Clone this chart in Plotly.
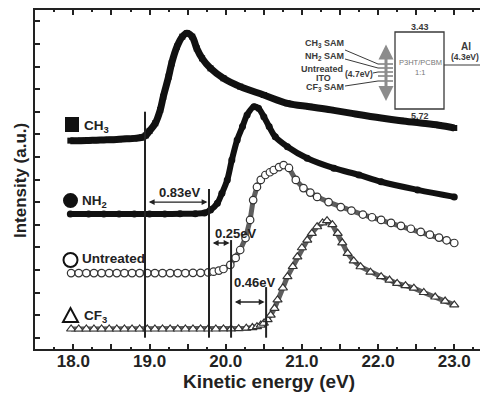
import plotly.graph_objects as go

# ---------------- data ----------------
ch3_x = [17.96, 18.1, 18.2, 18.3, 18.4, 18.5, 18.6, 18.7, 18.8, 18.9, 18.95, 19.0, 19.075, 19.14,
         19.18, 19.25, 19.29, 19.36, 19.43, 19.49, 19.56, 19.62, 19.69, 19.80, 19.97, 20.19, 20.50,
         20.81, 21.1, 21.38, 21.7, 22.04, 22.3, 22.56, 22.8, 23.0]
ch3_y = [8.72, 8.72, 8.73, 8.74, 8.75, 8.76, 8.78, 8.80, 8.82, 8.86, 8.95, 9.15, 9.49, 10.08,
         10.66, 11.55, 12.14, 12.88, 13.32, 13.47, 13.32, 12.80, 12.36, 11.92, 11.48, 11.11, 10.74,
         10.37, 10.22, 10.08, 9.90, 9.72, 9.60, 9.50, 9.40, 9.28]

nh2_x = [17.96, 18.2, 18.4, 18.6, 18.8, 19.0, 19.2, 19.4, 19.6, 19.72, 19.80, 19.89, 19.95, 20.02,
         20.08, 20.15, 20.22, 20.28, 20.37, 20.43, 20.50, 20.57, 20.65, 20.81, 21.07, 21.42, 21.75,
         22.04, 22.52, 23.0]
nh2_y = [5.47, 5.47, 5.47, 5.47, 5.47, 5.47, 5.47, 5.48, 5.49, 5.52, 5.65, 5.95, 6.39, 6.98,
         7.86, 8.75, 9.34, 9.85, 10.22, 10.15, 9.78, 9.34, 8.89, 8.45, 7.94, 7.50, 7.20,
         6.90, 6.54, 6.23]

unt_x = [17.97, 18.07, 18.17, 18.27, 18.37, 18.47, 18.57, 18.67, 18.77, 18.87, 18.97, 19.07, 19.17,
         19.27, 19.37, 19.47, 19.57, 19.67, 19.77, 19.84, 19.91, 19.97, 20.06, 20.13, 20.19, 20.26,
         20.32, 20.36, 20.41, 20.46, 20.52, 20.58, 20.63, 20.70, 20.76, 20.83, 20.92, 21.02, 21.11,
         21.20, 21.35, 21.51, 21.65, 21.8, 21.92, 22.04, 22.17, 22.3, 22.43, 22.56, 22.68, 22.8,
         22.9, 23.0]
unt_y = [2.86, 2.86, 2.86, 2.86, 2.86, 2.86, 2.86, 2.86, 2.86, 2.86, 2.86, 2.86, 2.86,
         2.86, 2.86, 2.86, 2.87, 2.87, 2.89, 2.92, 2.97, 3.04, 3.22, 3.53, 3.88, 4.41,
         5.21, 6.09, 6.67, 6.98, 7.20, 7.32, 7.42, 7.55, 7.64, 7.51, 6.98, 6.62, 6.42,
         6.23, 6.00, 5.78, 5.62, 5.45, 5.33, 5.21, 5.08, 4.95, 4.82, 4.68, 4.56, 4.43,
         4.31, 4.19]

cf3_x = [17.97, 18.07, 18.17, 18.27, 18.37, 18.47, 18.57, 18.67, 18.77, 18.87, 18.97, 19.07, 19.17,
         19.27, 19.37, 19.47, 19.57, 19.67, 19.77, 19.87, 19.97, 20.07, 20.17, 20.27, 20.35, 20.41,
         20.46, 20.50, 20.55, 20.59, 20.64, 20.68, 20.75, 20.81, 20.88, 20.94, 21.0, 21.07, 21.13,
         21.20, 21.27, 21.33, 21.40, 21.47, 21.53, 21.60, 21.68, 21.77, 21.9, 22.04, 22.15, 22.25,
         22.36, 22.47, 22.6, 22.75, 22.88, 23.0]
cf3_y = [0.385, 0.385, 0.385, 0.385, 0.385, 0.385, 0.385, 0.385, 0.385, 0.385, 0.385, 0.385, 0.385,
         0.385, 0.385, 0.385, 0.385, 0.385, 0.385, 0.385, 0.39, 0.39, 0.40, 0.42, 0.45, 0.49,
         0.56, 0.64, 0.80, 1.00, 1.30, 1.67, 2.20, 2.70, 3.15, 3.58, 3.98, 4.32, 4.62,
         4.91, 5.08, 5.18, 5.00, 4.62, 4.20, 3.73, 3.40, 3.14, 2.90, 2.70, 2.55, 2.40,
         2.30, 2.19, 2.00, 1.80, 1.62, 1.45]

onset_x = [18.94, 19.78, 20.07, 20.53]
onset_top = [10.0, 6.58, 4.32, 2.24]
gap_labels = ["0.83eV", "0.25eV", "0.46eV"]
gap_arrow_y = [6.0, 4.19, 1.58]
gap_label_pos = [(19.40, 6.42), (20.14, 4.63), (20.38, 2.46)]

series_names = ["CH<sub>3</sub>", "NH<sub>2</sub>", "Untreated", "CF<sub>3</sub>"]

x_ticks = [18.0, 18.5, 19.0, 19.5, 20.0, 20.5, 21.0, 21.5, 22.0, 22.5, 23.0]
x_ticktext = ["18.0", " ", "19.0", " ", "20.0", " ", "21.0", " ", "22.0", " ", "23.0"]
y_ticks = list(range(0, 15))

# inset energy levels
lumo_label, homo_label = "3.43", "5.72"
al_label, ito_label = "(4.3eV)", "(4.7eV)"

# ---------------- layout helpers (window pixel -> paper) ----------------
OFF = 8                      # page body margin
W, H = 480, 385              # figure size inside the 488x393 window
L, T = 35 - OFF, 10 - OFF    # plot area: window x 35..488, y 10..349
R, B = W - (488 - OFF), H - (349 - OFF)
PW, PH = W - L - R, H - T - B


def px(x):
    return (x - OFF - L) / PW


def py(y):
    return (H - B - (y - OFF)) / PH


FONT = "Liberation Sans, Arial, sans-serif"
DARK = "#222222"

fig = go.Figure()

fig.add_trace(go.Scatter(x=cf3_x, y=cf3_y, mode="lines+markers",
                         line=dict(color="#5e5e5e", width=5),
                         marker=dict(symbol="triangle-up", size=8, color="white",
                                     line=dict(color="#333333", width=1.2)),
                         hoverinfo="skip"))
fig.add_trace(go.Scatter(x=unt_x, y=unt_y, mode="lines+markers",
                         line=dict(color="#5e5e5e", width=5),
                         marker=dict(symbol="circle", size=7.5, color="white",
                                     line=dict(color="#333333", width=1.2)),
                         hoverinfo="skip"))
fig.add_trace(go.Scatter(x=nh2_x, y=nh2_y, mode="lines+markers",
                         line=dict(color="#111111", width=6, shape="spline"),
                         marker=dict(symbol="circle", size=7, color="#111111"),
                         hoverinfo="skip"))
fig.add_trace(go.Scatter(x=ch3_x, y=ch3_y, mode="lines+markers",
                         line=dict(color="#111111", width=7, shape="spline"),
                         marker=dict(symbol="square", size=6, color="#111111"),
                         hoverinfo="skip"))

shapes = []
annotations = []

# onset lines
for xv, top in zip(onset_x, onset_top):
    shapes.append(dict(type="line", xref="x", yref="y", x0=xv, x1=xv, y0=0.0, y1=top,
                       line=dict(color=DARK, width=2)))

# gap arrows
for i, (lab, ay) in enumerate(zip(gap_labels, gap_arrow_y)):
    x0, x1 = onset_x[i] + 0.03, onset_x[i + 1] - 0.02
    annotations.append(dict(x=x1, y=ay, ax=x0, ay=ay, xref="x", yref="y", axref="x", ayref="y",
                            text="", showarrow=True, arrowhead=2, arrowside="end+start",
                            arrowsize=0.9, arrowwidth=1.3, arrowcolor=DARK))
    lx, ly = gap_label_pos[i]
    annotations.append(dict(x=lx, y=ly, xref="x", yref="y", text=lab, showarrow=False,
                            xanchor="center", yanchor="middle",
                            font=dict(family=FONT, size=13, color=DARK, weight="bold")))

# legend keys
shapes.append(dict(type="rect", xref="paper", yref="paper", x0=px(65), x1=px(79), y0=py(132), y1=py(117),
                   fillcolor="#111111", line=dict(width=0)))
shapes.append(dict(type="circle", xref="paper", yref="paper", x0=px(63), x1=px(78), y0=py(208), y1=py(193),
                   fillcolor="#111111", line=dict(width=0)))
shapes.append(dict(type="circle", xref="paper", yref="paper", x0=px(63.5), x1=px(77.5), y0=py(267), y1=py(253),
                   fillcolor="white", line=dict(color="#111111", width=2)))
tri = "M {} {} L {} {} L {} {} Z".format(px(63), py(322), px(78), py(322), px(70.5), py(308))
shapes.append(dict(type="path", xref="paper", yref="paper", path=tri,
                   fillcolor="white", line=dict(color="#111111", width=2)))
for name, (tx, ty) in zip(series_names, [(82, 126), (80, 201), (80, 258), (82, 316)]):
    annotations.append(dict(x=px(tx), y=py(ty), xref="paper", yref="paper", text=name,
                            showarrow=False, xanchor="left", yanchor="middle",
                            font=dict(family=FONT, size=13.5, color=DARK, weight="bold")))

# axis titles
annotations.append(dict(x=px(20), y=py(181), xref="paper", yref="paper", text="Intensity (a.u.)",
                        textangle=-90, showarrow=False, xanchor="center", yanchor="middle",
                        font=dict(family=FONT, size=17, color=DARK, weight="bold")))
annotations.append(dict(x=px(269), y=py(381), xref="paper", yref="paper", text="Kinetic energy (eV)",
                        showarrow=False, xanchor="center", yanchor="middle",
                        font=dict(family=FONT, size=19, color=DARK, weight="bold")))

# ---------------- inset energy diagram ----------------
INS = "#3a3a3a"
shapes.append(dict(type="rect", xref="paper", yref="paper", x0=px(395), x1=px(444), y0=py(109), y1=py(32),
                   line=dict(color=INS, width=1.3), fillcolor="rgba(0,0,0,0)"))
shapes.append(dict(type="line", xref="paper", yref="paper", x0=px(444), x1=px(482), y0=py(65), y1=py(65),
                   line=dict(color=INS, width=1.2)))
for yy in [64, 68, 72, 76, 81]:
    shapes.append(dict(type="line", xref="paper", yref="paper", x0=px(378), x1=px(393), y0=py(yy), y1=py(yy),
                       line=dict(color=INS, width=1)))
for (a, b), (c, d) in [((345, 50), (378, 64)), ((345, 59), (378, 68)), ((373, 73), (378, 72)),
                       ((345, 86), (378, 81))]:
    shapes.append(dict(type="line", xref="paper", yref="paper", x0=px(a), x1=px(c), y0=py(b), y1=py(d),
                       line=dict(color=INS, width=1)))
annotations.append(dict(x=px(386), y=py(101), xref="paper", yref="paper", ax=0, ay=-58,
                        text="", showarrow=True, arrowhead=2, arrowside="end+start",
                        arrowsize=1.0, arrowwidth=3, arrowcolor="#8c8c8c"))


def itext(txt, x, y, size, anchor="center", color=INS, bold=True):
    annotations.append(dict(x=px(x), y=py(y), xref="paper", yref="paper", text=txt, showarrow=False,
                            xanchor=anchor, yanchor="middle",
                            font=dict(family=FONT, size=size, color=color,
                                      weight="bold" if bold else "normal")))


itext(lumo_label, 420, 27, 9)
itext(homo_label, 420, 116, 9)
itext("P3HT/PCBM", 420, 62, 7.5, color="#777777", bold=False)
itext("1:1", 420, 72, 7.5, color="#777777", bold=False)
itext("Al", 466, 47, 10)
itext(al_label, 465, 57, 8.5)
itext("CH<sub>3</sub> SAM", 346, 43, 9, anchor="right")
itext("NH<sub>2</sub> SAM", 346, 57, 9, anchor="right")
itext("Untreated", 322, 69, 9)
itext("ITO", 323, 78, 9)
itext(ito_label, 359, 74, 8.5)
itext("CF<sub>3</sub> SAM", 346, 87, 9, anchor="right")

fig.update_layout(
    width=W, height=H,
    margin=dict(l=L, r=R, t=T, b=B, autoexpand=False),
    paper_bgcolor="white", plot_bgcolor="white",
    showlegend=False,
    shapes=shapes, annotations=annotations,
    xaxis=dict(range=[17.496, 23.443], tickvals=x_ticks, ticktext=x_ticktext, automargin=False,
               ticks="inside", ticklen=5, tickwidth=1.5, tickcolor=DARK, ticklabelstandoff=-4,
               showline=True, linewidth=2, linecolor=DARK, mirror="ticks",
               showgrid=False, zeroline=False,
               minor=dict(dtick=0.25, tick0=18.0, ticks="inside", ticklen=2, tickwidth=1.5,
                          tickcolor=DARK, showgrid=False),
               tickfont=dict(family=FONT, size=17, color=DARK, weight="bold")),
    yaxis=dict(range=[-0.5, 14.5], tickvals=y_ticks, showticklabels=False, automargin=False,
               ticks="inside", ticklen=5, tickwidth=1.5, tickcolor=DARK,
               showline=True, linewidth=2, linecolor=DARK, mirror="ticks",
               showgrid=False, zeroline=False),
)

fig.write_html("out.html")
